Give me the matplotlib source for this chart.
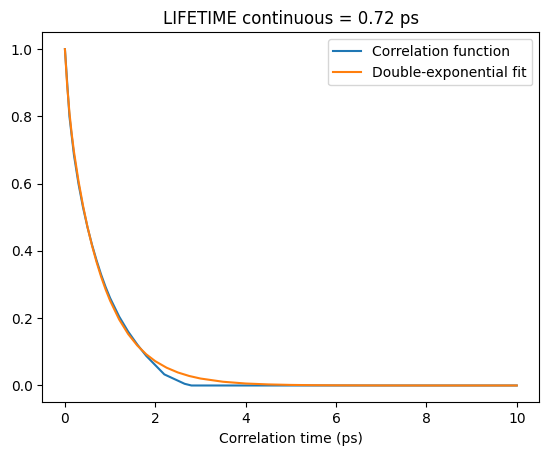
import matplotlib
matplotlib.use("Agg")
import matplotlib.pyplot as plt

# correlation function (time in ps)
corr_t = [0.0, 0.1, 0.2, 0.3, 0.4, 0.5, 0.6, 0.7, 0.8, 0.9, 1.0, 1.2, 1.4,
          1.6, 1.8, 2.2, 2.65, 2.8, 3.0, 4.0, 5.0, 6.0, 7.0, 8.0, 9.0, 10.0]
corr_v = [1.0, 0.80, 0.685, 0.600, 0.530, 0.470, 0.418, 0.372, 0.330, 0.293,
          0.260, 0.205, 0.160, 0.122, 0.088, 0.033, 0.005, 0.0, 0.0, 0.0,
          0.0, 0.0, 0.0, 0.0, 0.0, 0.0]

# double-exponential fit, values
fit_t = [0.0, 0.05, 0.1, 0.15, 0.2, 0.3, 0.4, 0.5, 0.6, 0.7, 0.8, 0.9, 1.0,
         1.2, 1.4, 1.6, 1.8, 2.0, 2.25, 2.5, 2.75, 3.0, 3.5, 4.0, 4.5, 5.0,
         5.5, 6.0, 7.0, 8.0, 9.0, 10.0]
fit_v = [1.0, 0.891, 0.811, 0.748, 0.695, 0.608, 0.535, 0.471, 0.4157,
         0.3669, 0.3237, 0.2857, 0.2521, 0.1963, 0.1529, 0.1191, 0.0927,
         0.0722, 0.0529, 0.0387, 0.0283, 0.0207, 0.0111, 0.0059, 0.0032,
         0.0017, 0.0009, 0.0005, 0.0001, 0.0, 0.0, 0.0]

fig = plt.figure(figsize=(5.47, 4.55), dpi=100)
ax = fig.add_axes([0.0774, 0.1158, 0.9086, 0.8132])
ax.plot(corr_t, corr_v, label="Correlation function")
ax.plot(fit_t, fit_v, label="Double-exponential fit")
ax.set_xlabel("Correlation time (ps)")
ax.set_title("LIFETIME continuous = 0.72 ps")
ax.legend()
fig.savefig("out.png", dpi=100)
